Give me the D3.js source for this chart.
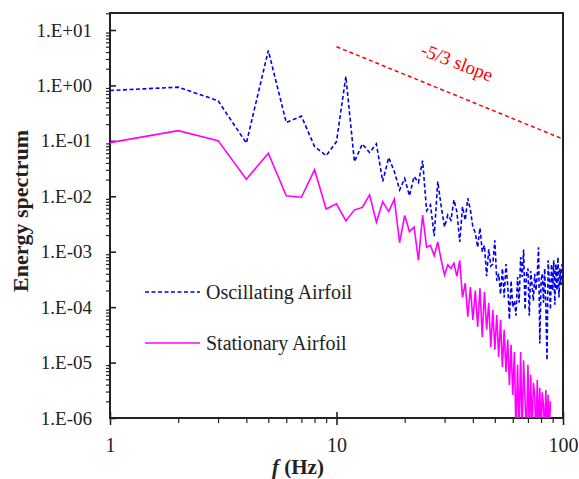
<!DOCTYPE html>
<html>
<head>
<meta charset="utf-8">
<title>Energy spectrum</title>
<script src="https://cdn.jsdelivr.net/npm/d3@7/dist/d3.min.js"></script>
<style>
  body { margin: 0; background: #fff; }
  svg { display: block; font-family: "Liberation Serif", "Times New Roman", serif; }
  svg text { font-family: "Liberation Serif", "Times New Roman", serif; }
  .tick text { font-size: 19px; fill: #222; }
  .domain { display: none; }
</style>
</head>
<body>
<svg id="chart" width="579" height="479"></svg>
<script>
// frequency bins (Hz)
const freqOsc = d3.range(1, 100);
const freqSta = d3.range(1, 89);

// Oscillating airfoil, energy per bin
const oscillating = [
  0.81, 0.93, 0.53, 0.091, 4.27, 0.214, 0.28, 0.079, 0.054, 0.097,
  1.45, 0.042, 0.088, 0.0615, 0.088, 0.0185, 0.05, 0.028, 0.013, 0.021,
  0.0102, 0.0227, 0.0177, 0.044, 0.0055, 0.007, 0.0019, 0.0185, 0.0065, 0.0028,
  0.0046, 0.0037, 0.0086, 0.0053, 0.0015, 0.0065, 0.0037, 0.0092, 0.0057, 0.0028,
  0.0022, 0.0012, 0.0027, 0.001, 0.0013, 3.6e-4, 0.0011, 5.5e-4, 6e-4, 0.0016,
  3e-4, 4e-4, 1.7e-4, 5e-4, 1.5e-4, 6e-4, 2.5e-4, 6e-5, 3e-4, 1e-4,
  1.3e-4, 7e-5, 3.5e-4, 1.2e-4, 8e-4, 3.5e-4, 0.0011, 9e-5, 4e-4, 5e-4,
  7e-5, 4.5e-4, 2.5e-4, 1.3e-4, 4e-4, 2e-4, 4e-4, 0.0012, 2.2e-5, 3e-4,
  4e-4, 1.2e-4, 5e-4, 1e-4, 1.1e-5, 7e-4, 3e-4, 9e-5, 6e-4, 2e-4,
  7e-4, 1.1e-4, 6e-4, 2e-4, 8e-4, 1.5e-4, 5e-4, 2.5e-4, 6e-4
];

// Stationary airfoil, energy per bin
const stationary = [
  0.093, 0.153, 0.101, 0.0203, 0.06, 0.0102, 0.0096, 0.03, 0.0059, 0.0073,
  0.0036, 0.0057, 0.0063, 0.0106, 0.0034, 0.008, 0.0053, 0.0089, 0.00146, 0.0045,
  0.0023, 0.0028, 7e-4, 0.0046, 0.0012, 0.0013, 8.5e-4, 0.0015, 7e-4, 3.8e-4,
  5.8e-4, 5e-4, 6.2e-4, 3.6e-4, 7e-4, 1.5e-4, 2.7e-4, 6.7e-5, 2.3e-4, 5.9e-5,
  2e-4, 4.4e-5, 2.2e-4, 2.9e-5, 1.9e-4, 3.9e-5, 1.2e-4, 1.9e-5, 8.9e-5, 1.7e-5,
  7.2e-5, 1.26e-5, 5.9e-5, 8.3e-6, 3.9e-5, 6.8e-6, 2.6e-5, 3.9e-6, 2.1e-5, 2.6e-6,
  1.55e-5, 5e-7, 9.1e-6, 5e-7, 1.55e-5, 5e-7, 1.1e-5, 2.1e-6, 5e-7, 9.1e-6,
  5e-7, 6e-6, 5e-7, 4.3e-6, 2.6e-6, 5e-7, 4.9e-6, 5e-7, 3.5e-6, 5e-7,
  2.9e-6, 1.7e-6, 5e-7, 3.2e-6, 5e-7, 2.6e-6, 5e-7, 2e-6
];

// -5/3 reference line end points
const slopeF = [10, 100];
const slopeE = [5, 5 * Math.pow(10, -5 / 3)];

const xTicks = [1, 10, 100];
const yTicks = [1e-6, 1e-5, 1e-4, 1e-3, 1e-2, 1e-1, 1, 10];

const legendItems = ["Oscillating Airfoil", "Stationary Airfoil"];

const svg = d3.select("#chart");
const plotLeft = 110, plotRight = 563, plotTop = 13, plotBottom = 418;

const x = d3.scaleLog().domain([1, 100]).range([plotLeft, plotRight]);
const y = d3.scaleLog().domain([1e-6, 10]).range([plotBottom, 30]);

const yFmt = v => {
  const p = Math.round(Math.log10(v));
  return "1.E" + (p >= 0 ? "+" : "-") + String(Math.abs(p)).padStart(2, "0");
};

// minor ticks
const yMinor = [];
for (let p = -6; p < 2; p++) for (let k = 2; k <= 9; k++) {
  const v = k * Math.pow(10, p);
  if (y(v) >= plotTop) yMinor.push(v);
}
const xMinor = [];
for (let p = 0; p < 2; p++) for (let k = 2; k <= 9; k++) xMinor.push(k * Math.pow(10, p));

svg.append("defs").append("clipPath").attr("id", "plotClip")
  .append("rect")
    .attr("x", plotLeft).attr("y", plotTop)
    .attr("width", plotRight - plotLeft).attr("height", plotBottom - plotTop);

// Axes
svg.append("g")
    .attr("transform", "translate(" + plotLeft + ",0)")
    .call(d3.axisLeft(y).tickValues(yMinor).tickFormat("").tickSize(4))
    .selectAll("line").attr("stroke", "#222").attr("stroke-width", 1.2);

const gy = svg.append("g")
    .attr("transform", "translate(" + plotLeft + ",0)")
    .call(d3.axisLeft(y).tickValues(yTicks).tickFormat(yFmt).tickSize(5).tickPadding(13))
    .attr("font-family", null).attr("font-size", null);
gy.selectAll("line").attr("x2", 6).attr("stroke", "#222").attr("stroke-width", 1.6);

svg.append("g")
    .attr("transform", "translate(0," + plotBottom + ")")
    .call(d3.axisBottom(x).tickValues(xMinor).tickFormat("").tickSize(5))
    .selectAll("line").attr("stroke", "#222").attr("stroke-width", 1.2);

const gx = svg.append("g")
    .attr("transform", "translate(0," + plotBottom + ")")
    .call(d3.axisBottom(x).tickValues(xTicks).tickFormat(d3.format("d")).tickSize(7).tickPadding(13))
    .attr("font-family", null).attr("font-size", null);
gx.selectAll("line").attr("y2", 7).attr("y1", -6).attr("stroke", "#222").attr("stroke-width", 1.6);
gx.selectAll("text").style("font-size", "20px");

// frame
svg.append("rect")
    .attr("x", plotLeft).attr("y", plotTop)
    .attr("width", plotRight - plotLeft).attr("height", plotBottom - plotTop)
    .attr("fill", "none").attr("stroke", "#222").attr("stroke-width", 2);

const plot = svg.append("g").attr("clip-path", "url(#plotClip)");

const line = d3.line().x(d => x(d[0])).y(d => y(d[1]));

plot.append("path")
    .datum(freqSta.map((f, i) => [f, stationary[i]]))
    .attr("d", line)
    .attr("fill", "none")
    .attr("stroke", "#ff00ff")
    .attr("stroke-width", 1.6);

plot.append("path")
    .datum(freqOsc.map((f, i) => [f, oscillating[i]]))
    .attr("d", line)
    .attr("fill", "none")
    .attr("stroke", "#0000ee")
    .attr("stroke-width", 1.6)
    .attr("stroke-dasharray", "4,2.5");

plot.append("path")
    .datum(slopeF.map((f, i) => [f, slopeE[i]]))
    .attr("d", line)
    .attr("fill", "none")
    .attr("stroke", "#ff0000")
    .attr("stroke-width", 1.5)
    .attr("stroke-dasharray", "4,3");

svg.append("text")
    .attr("transform", "translate(457,62) rotate(21)")
    .attr("text-anchor", "middle")
    .attr("dy", "0.35em")
    .attr("fill", "#ff0000")
    .style("font-size", "19px")
    .text("-5/3 slope");

// legend
const legend = svg.append("g").selectAll("g")
    .data(legendItems)
  .enter().append("g")
    .attr("transform", (d, i) => "translate(145," + (292 + i * 51) + ")");

legend.append("line")
    .attr("x1", 0).attr("x2", 55)
    .attr("stroke", (d, i) => i === 0 ? "#0000ee" : "#ff00ff")
    .attr("stroke-width", 1.6)
    .attr("stroke-dasharray", (d, i) => i === 0 ? "4,2.5" : null);

legend.append("text")
    .attr("x", 61).attr("dy", "0.35em")
    .style("font-size", "20px")
    .attr("fill", "#222")
    .text(d => d);

// axis titles
svg.append("text")
    .attr("transform", "translate(28,211) rotate(-90)")
    .attr("text-anchor", "middle")
    .style("font-size", "22px")
    .style("font-weight", "bold")
    .attr("fill", "#222")
    .text("Energy spectrum");

const xt = svg.append("text")
    .attr("x", 298).attr("y", 474)
    .attr("text-anchor", "middle")
    .style("font-size", "21px")
    .style("font-weight", "bold")
    .attr("fill", "#222");
xt.append("tspan").style("font-style", "italic").text("f");
xt.append("tspan").text(" (Hz)");
</script>
</body>
</html>
